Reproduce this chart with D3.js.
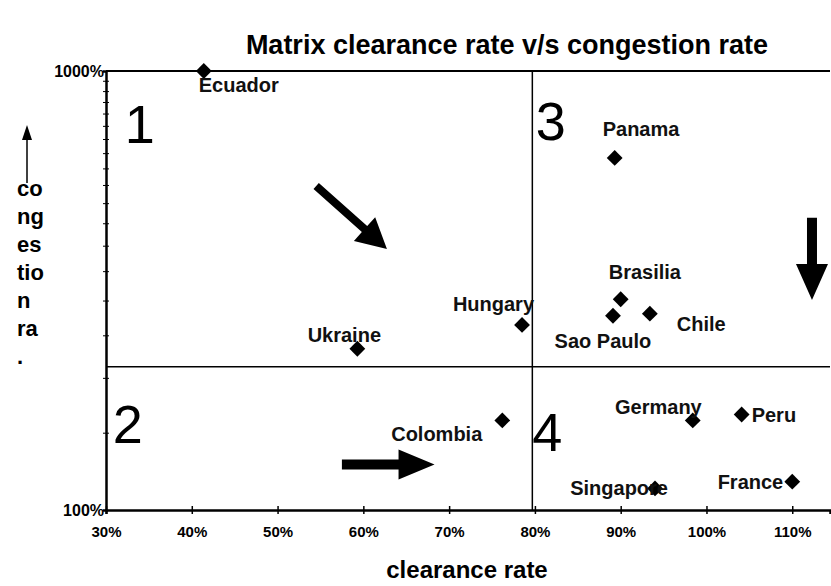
<!DOCTYPE html>
<html>
<head>
<meta charset="utf-8">
<script src="https://cdn.jsdelivr.net/npm/d3@7"></script>
<style>
  body { margin: 0; background: #fff; }
  text { font-family: "Liberation Sans", Arial, sans-serif; }
</style>
</head>
<body>
<div id="chart"></div>
<script>
const countries = ['Ecuador', 'Panama', 'Brasilia', 'Sao Paulo', 'Chile', 'Hungary', 'Ukraine', 'Colombia', 'Germany', 'Peru', 'Singapore', 'France'];
const clearance = [41.4, 89.3, 90.0, 89.1, 93.4, 78.5, 59.3, 76.2, 98.4, 104.1, 94.0, 110.0];
const congestion = [1000, 634, 302, 277, 280, 264, 233, 160, 160, 165, 112, 116];
// label placement relative to the marker: [dx, dy, anchor]
const labelOffsets = [
  [-5, 21, 'start'], [-12, -22, 'start'], [-12, -20, 'start'], [-10, 32, 'middle'],
  [27, 17, 'start'], [12, -14, 'end'], [-13, -7, 'middle'], [-20, 21, 'end'],
  [9, -6, 'end'], [10, 7, 'start'], [13, 7, 'end'], [-9, 7, 'end']
];
const xTicks = [30, 40, 50, 60, 70, 80, 90, 100, 110];
const yTicks = [100, 1000];
const quadrants = ['1', '2', '3', '4'];
const quadrantAt = [[32.2, 685], [30.8, 142], [80.1, 696], [79.7, 136]];
const splitX = 79.7;
const splitY = 212;

const width = 831, height = 586;
const margin = { top: 71, right: 1, bottom: 76, left: 106 };

const svg = d3.select('#chart')
  .append('svg')
    .attr('width', width)
    .attr('height', height);

const x = d3.scaleLinear()
  .domain([30, 114.4])
  .range([margin.left, width - margin.right]);

const y = d3.scaleLog()
  .domain([100, 1000])
  .range([height - margin.bottom, margin.top]);

// title
svg.append('text')
  .attr('x', 507)
  .attr('y', 54)
  .attr('text-anchor', 'middle')
  .attr('font-size', '27px')
  .attr('font-weight', 'bold')
  .text('Matrix clearance rate v/s congestion rate');

// x axis
svg.append('g')
  .attr('transform', `translate(0, ${y(100)})`)
  .call(d3.axisBottom(x).tickValues(xTicks).tickSize(4).tickFormat(d => `${d}%`))
  .call(g => g.select('.domain').attr('stroke-width', 2.5))
  .call(g => g.selectAll('.tick line').attr('y1', -4).attr('stroke-width', 1.5))
  .call(g => g.selectAll('.tick text')
    .attr('dy', 20)
    .attr('font-size', '15px')
    .attr('font-weight', 'bold')
    .attr('font-family', '"Liberation Sans", Arial, sans-serif'));

// y axis with log minor ticks
svg.append('g')
  .attr('transform', `translate(${x(30)}, 0)`)
  .call(d3.axisLeft(y).tickValues(d3.range(100, 1001, 50)).tickSize(3).tickFormat(d => yTicks.includes(d) ? `${d}%` : ''))
  .call(g => g.select('.domain').attr('stroke-width', 2.5))
  .call(g => g.selectAll('.tick line').attr('x1', 3))
  .call(g => g.selectAll('.tick text')
    .attr('x', -2)
    .attr('font-size', '16px')
    .attr('font-weight', 'bold')
    .attr('font-family', '"Liberation Sans", Arial, sans-serif'));

// top border and quadrant lines
svg.append('line')
  .attr('x1', x(30)).attr('x2', x(114.4))
  .attr('y1', y(1000)).attr('y2', y(1000))
  .attr('stroke', '#000').attr('stroke-width', 2);

svg.append('line')
  .attr('x1', x(30)).attr('x2', x(114.4))
  .attr('y1', y(splitY)).attr('y2', y(splitY))
  .attr('stroke', '#000').attr('stroke-width', 1.5);

svg.append('line')
  .attr('x1', x(splitX)).attr('x2', x(splitX))
  .attr('y1', y(1000)).attr('y2', y(100))
  .attr('stroke', '#000').attr('stroke-width', 1.5);

// quadrant numbers
svg.selectAll('.quad')
  .data(quadrants)
  .enter().append('text')
    .attr('class', 'quad')
    .attr('x', (d, i) => x(quadrantAt[i][0]))
    .attr('y', (d, i) => y(quadrantAt[i][1]))
    .attr('font-size', '54px')
    .attr('font-family', '"Liberation Sans", Arial, sans-serif')
    .text(d => d);

// block arrows (data units)
const arrows = [
  { from: [54.5, 547], to: [62.75, 393], w: 8, head: 30, hw: 16 },
  { from: [57.5, 127], to: [68.3, 127], w: 10, head: 36, hw: 15 },
  { from: [112.3, 463], to: [112.3, 301], w: 10, head: 36, hw: 16 }
];
arrows.forEach(a => {
  const x0 = x(a.from[0]), y0 = y(a.from[1]), x1 = x(a.to[0]), y1 = y(a.to[1]);
  const len = Math.hypot(x1 - x0, y1 - y0);
  const ang = Math.atan2(y1 - y0, x1 - x0) * 180 / Math.PI;
  const s = a.w / 2, hl = a.head;
  svg.append('path')
    .attr('transform', `translate(${x0}, ${y0}) rotate(${ang})`)
    .attr('d', `M0,${-s}L${len - hl},${-s}L${len - hl},${-a.hw}L${len},0L${len - hl},${a.hw}L${len - hl},${s}L0,${s}Z`)
    .attr('fill', '#000');
});

// y label with up arrow
svg.append('line')
  .attr('x1', 27).attr('x2', 27)
  .attr('y1', 183).attr('y2', 134)
  .attr('stroke', '#000').attr('stroke-width', 1.5);
svg.append('path')
  .attr('d', 'M22,140L27,125L32,140Z')
  .attr('fill', '#000');

const yLabelLines = ['co', 'ng', 'es', 'tio', 'n', 'ra', '.'];
svg.append('text')
  .attr('y', 196)
  .attr('font-size', '22px')
  .attr('font-weight', 'bold')
  .selectAll('tspan')
  .data(yLabelLines)
  .enter().append('tspan')
    .attr('x', 17)
    .attr('dy', (d, i) => i === 0 ? 0 : 28)
    .text(d => d);

// x label
svg.append('text')
  .attr('x', 467)
  .attr('y', 578)
  .attr('text-anchor', 'middle')
  .attr('font-size', '24px')
  .attr('font-weight', 'bold')
  .text('clearance rate');

// points
const points = countries.map((c, i) => ({ name: c, cx: clearance[i], cy: congestion[i], off: labelOffsets[i] }));

svg.selectAll('.pt')
  .data(points)
  .enter().append('path')
    .attr('class', 'pt')
    .attr('d', d3.symbol().type(d3.symbolSquare).size(125))
    .attr('transform', d => `translate(${x(d.cx)}, ${y(d.cy)}) rotate(45)`)
    .attr('fill', '#000');

svg.selectAll('.lbl')
  .data(points)
  .enter().append('text')
    .attr('class', 'lbl')
    .attr('x', d => x(d.cx) + d.off[0])
    .attr('y', d => y(d.cy) + d.off[1])
    .attr('text-anchor', d => d.off[2])
    .attr('font-size', '20px')
    .attr('font-weight', 'bold')
    .attr('fill', '#111')
    .text(d => d.name);
</script>
</body>
</html>
